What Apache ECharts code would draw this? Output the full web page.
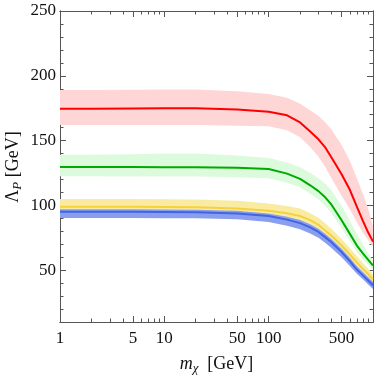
<!DOCTYPE html>
<html>
<head>
<meta charset="utf-8">
<script src="https://cdn.jsdelivr.net/npm/echarts@6/dist/echarts.min.js"></script>
<style>
html,body{margin:0;padding:0;background:#fff;}
#c{width:374px;height:381px;}
</style>
</head>
<body>
<div id="c"></div>
<script>
// x values: dark-matter mass m_chi [GeV]
const mass = [1, 2, 5, 10, 20, 50, 100, 150, 200, 250, 300, 350, 400, 500, 600, 700, 800, 900, 1000];

// red
const redMid   = [174.5, 174.5, 174.8, 175, 175, 174, 172.2, 169.5, 164, 157, 151, 144.5, 137, 124, 112, 99, 88, 79, 72];
const redLow   = [162, 162, 162, 162, 162, 161.5, 161, 158, 152.5, 145, 137.5, 129.5, 121, 107.5, 97, 87, 79, 73, 68];
const redHigh  = [189, 189, 189.3, 189.5, 189.5, 188, 186, 183, 178.5, 173.5, 169, 164, 158.5, 146.5, 134.5, 121, 109, 97, 84];
// green
const greenMid  = [129.7, 129.7, 129.6, 129.5, 129.5, 129, 128, 124.5, 120.5, 115.5, 111, 106, 100.5, 88.5, 78, 69, 63, 58, 53.5];
const greenLow  = [122.4, 122.4, 122.3, 122.2, 122.2, 121.8, 121, 117.5, 114, 109, 104.5, 99.5, 94, 82.5, 72.5, 64, 58.5, 54, 50];
const greenHigh = [139, 139, 139.5, 140, 140, 138.5, 136.6, 133, 129.5, 125, 121, 116.5, 111.5, 99.5, 88, 78, 70, 63, 57.5];
// yellow
const yellowMid  = [99, 99, 99, 98.8, 98.5, 97.5, 95.8, 94, 91.8, 88.6, 85, 80.5, 76.5, 69, 62, 56, 51, 47, 43];
const yellowLow  = [92.5, 92.5, 92.5, 92.3, 92, 91, 90, 88.5, 86.5, 83.5, 80, 76, 72, 65, 58.5, 52.5, 48, 44, 40];
const yellowHigh = [105, 105, 105, 104.8, 104.5, 103.5, 101.5, 99.5, 97.5, 94, 90.5, 86, 82, 74, 67, 61, 55.5, 51, 47];
// blue
const blueMid  = [95, 95, 95, 94.8, 94.6, 93.8, 91.8, 89, 86.3, 83, 79.5, 75.3, 71.5, 64, 57, 50.5, 46, 42, 38.3];
const blueLow  = [90.3, 90.3, 90.3, 90.1, 90, 89.2, 87.2, 84.3, 81.5, 78.3, 75, 71, 67.2, 60, 53.3, 47.3, 43, 39, 35.5];
const blueHigh = [97, 97, 97, 96.8, 96.6, 95.8, 93.8, 91.2, 88.8, 85.5, 82, 78, 74, 66.5, 59.5, 53, 48.5, 44.5, 41];

// ticks
const xMajorTicks = [1, 5, 10, 50, 100, 500];
const xMinorTicks = [2, 3, 4, 6, 7, 8, 9, 20, 30, 40, 60, 70, 80, 90, 200, 300, 400, 600, 700, 800, 900];
const yMajorTicks = [50, 100, 150, 200, 250];
const yMinorTicks = [20, 30, 40, 60, 70, 80, 90, 110, 120, 130, 140, 160, 170, 180, 190, 210, 220, 230, 240];

const pairs = (ys) => mass.map((m, i) => [m, ys[i]]);

const colors = {
  red:    {line: '#ff0000', band: '#ffd6d6'},
  green:  {line: '#00aa00', band: '#dcfadc'},
  yellow: {line: '#f5d23c', band: '#f9eca2'},
  blue:   {line: '#4264e0', band: '#8a9ef0'}
};

const axisCol = '#555';
const serif = '"Liberation Serif", "DejaVu Serif", serif';

// band polygon drawn through the axes' own scales (api.coord)
function band(name, lo, hi, col, z) {
  return {
    type: 'custom', name: name + 'band', z: z, silent: true, clip: true,
    data: [[mass[0], lo[0]]],
    renderItem: function (params, api) {
      const pts = [];
      for (let i = 0; i < mass.length; i++) pts.push(api.coord([mass[i], hi[i]]));
      for (let i = mass.length - 1; i >= 0; i--) pts.push(api.coord([mass[i], lo[i]]));
      return {type: 'polygon', shape: {points: pts, smooth: 0}, style: {fill: col, stroke: null}};
    }
  };
}
function mid(name, ys, col, z) {
  return {type: 'line', name: name, data: pairs(ys), symbol: 'none',
          lineStyle: {color: col, width: 2}, z: z, silent: true};
}

const xBase = {type: 'log', logBase: 10, min: 1, max: 1000, gridIndex: 0,
  splitLine: {show: false}, axisLine: {show: true, onZero: false, lineStyle: {color: axisCol, width: 1}}};
const yBase = {type: 'value', min: 10, max: 250, gridIndex: 0,
  splitLine: {show: false}, axisLine: {show: true, onZero: false, lineStyle: {color: axisCol, width: 1}}};

const titleRich = {
  L: {fontFamily: serif, fontSize: 18, fill: '#111', color: '#111', lineHeight: 22},
  s: {fontFamily: serif, fontStyle: 'italic', fontSize: 13, fill: '#111', color: '#111', lineHeight: 14, verticalAlign: 'bottom'},
  n: {fontFamily: serif, fontSize: 18, fill: '#111', color: '#111', lineHeight: 22}
};

const option = {
  animation: false,
  backgroundColor: '#fff',
  grid: {left: 60, top: 11, right: 1, bottom: 59, containLabel: false, outerBoundsMode: 'none'},
  graphic: [{
    type: 'text', x: 13, y: 167, rotation: Math.PI / 2, silent: true,
    style: {text: '{L|Λ}{s|P}{n| [GeV]}', rich: titleRich, align: 'center', verticalAlign: 'middle'}
  }],
  xAxis: [
    Object.assign({}, xBase, {position: 'bottom',
      name: '{i|m}{s|χ}{n|  [GeV]}', nameLocation: 'middle', nameGap: 31,
      nameTextStyle: {rich: {
        i: {fontFamily: serif, fontStyle: 'italic', fontSize: 18, color: '#111', lineHeight: 22},
        s: {fontFamily: serif, fontStyle: 'italic', fontSize: 13, color: '#111', lineHeight: 14, verticalAlign: 'bottom'},
        n: {fontFamily: serif, fontSize: 18, color: '#111', lineHeight: 22}
      }},
      axisTick: {show: true, inside: true, length: 6, customValues: xMajorTicks, lineStyle: {color: axisCol}},
      axisLabel: {show: true, customValues: xMajorTicks, margin: 8, fontFamily: serif, fontSize: 17, color: '#111',
        formatter: (v) => String(Math.round(v))}
    }),
    Object.assign({}, xBase, {position: 'bottom',
      axisTick: {show: true, inside: true, length: 3.5, customValues: xMinorTicks, lineStyle: {color: axisCol}},
      axisLabel: {show: false}}),
    Object.assign({}, xBase, {position: 'top',
      axisTick: {show: true, inside: true, length: 6, customValues: xMajorTicks, lineStyle: {color: axisCol}},
      axisLabel: {show: false}}),
    Object.assign({}, xBase, {position: 'top',
      axisTick: {show: true, inside: true, length: 3.5, customValues: xMinorTicks, lineStyle: {color: axisCol}},
      axisLabel: {show: false}})
  ],
  yAxis: [
    Object.assign({}, yBase, {position: 'left',
      axisTick: {show: true, inside: true, length: 6, customValues: yMajorTicks, lineStyle: {color: axisCol}},
      axisLabel: {show: true, customValues: yMajorTicks, margin: 4, fontFamily: serif, fontSize: 17, color: '#111'}
    }),
    Object.assign({}, yBase, {position: 'left',
      axisTick: {show: true, inside: true, length: 3.5, customValues: yMinorTicks, lineStyle: {color: axisCol}},
      axisLabel: {show: false}}),
    Object.assign({}, yBase, {position: 'right',
      axisTick: {show: true, inside: true, length: 6, customValues: yMajorTicks, lineStyle: {color: axisCol}},
      axisLabel: {show: false}}),
    Object.assign({}, yBase, {position: 'right',
      axisTick: {show: true, inside: true, length: 3.5, customValues: yMinorTicks, lineStyle: {color: axisCol}},
      axisLabel: {show: false}})
  ],
  series: [
    band('red', redLow, redHigh, colors.red.band, 1),
    mid('redMid', redMid, colors.red.line, 2),
    band('green', greenLow, greenHigh, colors.green.band, 3),
    mid('greenMid', greenMid, colors.green.line, 4),
    band('yellow', yellowLow, yellowHigh, colors.yellow.band, 5),
    mid('yellowMid', yellowMid, colors.yellow.line, 6),
    band('blue', blueLow, blueHigh, colors.blue.band, 7),
    mid('blueMid', blueMid, colors.blue.line, 8)
  ]
};

const chart = echarts.init(document.getElementById('c'), null, {renderer: 'canvas'});
chart.setOption(option);
</script>
</body>
</html>
